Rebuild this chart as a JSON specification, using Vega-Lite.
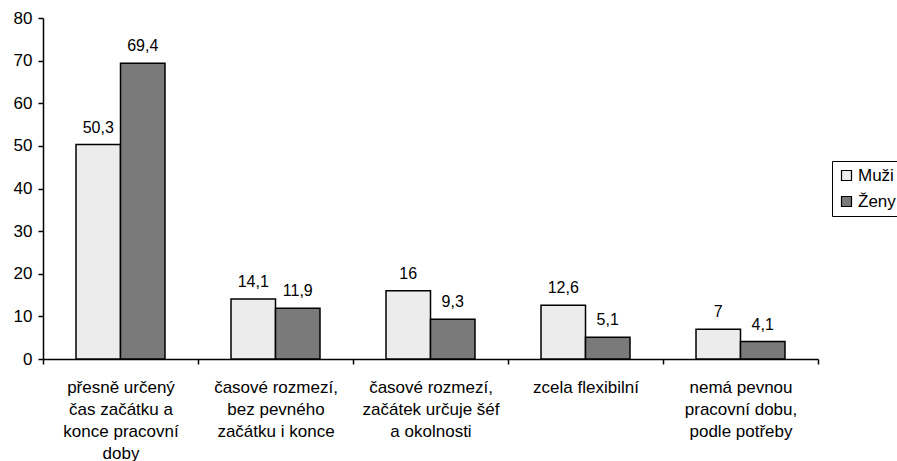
{
  "$schema": "https://vega.github.io/schema/vega-lite/v6.json",
  "autosize": {"type": "none"},
  "padding": {"left": 43, "top": 18, "right": 79, "bottom": 102},
  "width": 775,
  "height": 341,
  "background": "white",
  "config": {
    "font": "Liberation Sans",
    "view": {"stroke": null},
    "axis": {"labelFont": "Liberation Sans", "labelColor": "black", "domainColor": "black", "tickColor": "black", "grid": false}
  },
  "data": {
    "values": [
      {"kategorie": "přesně určený|čas začátku a|konce pracovní|doby", "pohlavi": "Muži", "hodnota": 50.3, "popisek": "50,3"},
      {"kategorie": "přesně určený|čas začátku a|konce pracovní|doby", "pohlavi": "Ženy", "hodnota": 69.4, "popisek": "69,4"},
      {"kategorie": "časové rozmezí,|bez pevného|začátku i konce", "pohlavi": "Muži", "hodnota": 14.1, "popisek": "14,1"},
      {"kategorie": "časové rozmezí,|bez pevného|začátku i konce", "pohlavi": "Ženy", "hodnota": 11.9, "popisek": "11,9"},
      {"kategorie": "časové rozmezí,|začátek určuje šéf|a okolnosti", "pohlavi": "Muži", "hodnota": 16, "popisek": "16"},
      {"kategorie": "časové rozmezí,|začátek určuje šéf|a okolnosti", "pohlavi": "Ženy", "hodnota": 9.3, "popisek": "9,3"},
      {"kategorie": "zcela flexibilní", "pohlavi": "Muži", "hodnota": 12.6, "popisek": "12,6"},
      {"kategorie": "zcela flexibilní", "pohlavi": "Ženy", "hodnota": 5.1, "popisek": "5,1"},
      {"kategorie": "nemá pevnou|pracovní dobu,|podle potřeby", "pohlavi": "Muži", "hodnota": 7, "popisek": "7"},
      {"kategorie": "nemá pevnou|pracovní dobu,|podle potřeby", "pohlavi": "Ženy", "hodnota": 4.1, "popisek": "4,1"}
    ]
  },
  "encoding": {
    "x": {
      "field": "kategorie",
      "type": "nominal",
      "sort": null,
      "title": null,
      "scale": {"paddingInner": 0, "paddingOuter": 0},
      "axis": {
        "labelAngle": 0,
        "labelExpr": "split(datum.label, '|')",
        "labelFontSize": 17,
        "labelLineHeight": 22,
        "labelPadding": 15,
        "labelLimit": 0,
        "tickBand": "extent",
        "tickSize": 5,
        "domainWidth": 1.5,
        "tickWidth": 1.5
      }
    },
    "xOffset": {
      "field": "pohlavi",
      "type": "nominal",
      "scale": {"paddingInner": 0, "paddingOuter": 0.742}
    },
    "y": {
      "field": "hodnota",
      "type": "quantitative",
      "title": null,
      "scale": {"domain": [0, 80], "nice": false},
      "axis": {
        "values": [0, 10, 20, 30, 40, 50, 60, 70, 80],
        "labelFontSize": 17,
        "tickSize": 5,
        "labelPadding": 6,
        "domainWidth": 1.5,
        "tickWidth": 1.5
      }
    }
  },
  "layer": [
    {
      "mark": {"type": "bar", "stroke": "black", "strokeWidth": 1.5},
      "encoding": {
        "fill": {
          "field": "pohlavi",
          "type": "nominal",
          "title": null,
          "scale": {"domain": ["Muži", "Ženy"], "range": ["#ececec", "#7a7a7a"]},
          "legend": {
            "orient": "none",
            "legendX": 789,
            "legendY": 143,
            "strokeColor": "black",
            "padding": 6,
            "symbolType": "square",
            "symbolSize": 100,
            "symbolStrokeColor": "black",
            "symbolStrokeWidth": 1.2,
            "labelFontSize": 17,
            "labelColor": "black",
            "rowPadding": 8,
            "labelOffset": 3
          }
        }
      }
    },
    {
      "mark": {"type": "text", "baseline": "bottom", "dy": -9, "fontSize": 16, "color": "black"},
      "encoding": {"text": {"field": "popisek"}}
    }
  ]
}
